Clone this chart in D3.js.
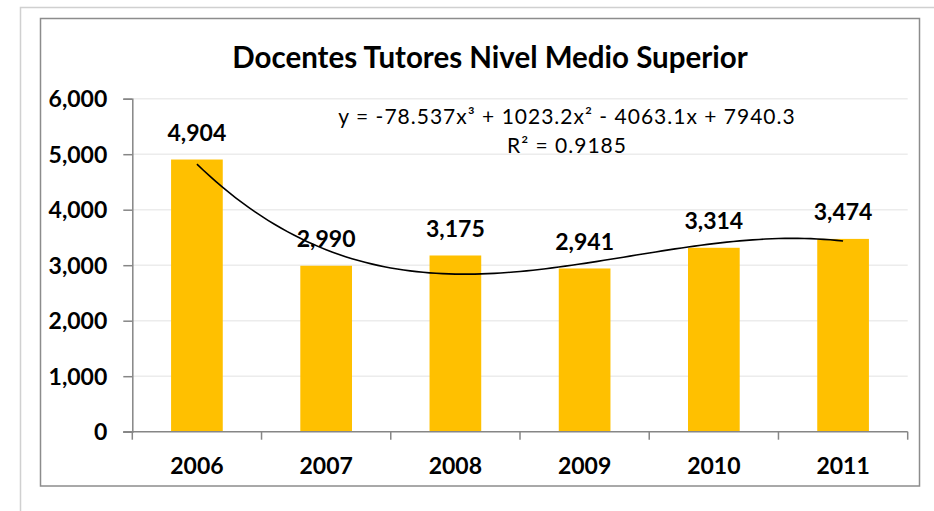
<!DOCTYPE html>
<html>
<head>
<meta charset="utf-8">
<script src="https://cdn.jsdelivr.net/npm/d3@7"></script>
<style>
  body { margin: 0; background: #fff; }
  text { font-family: Lato, "Open Sans", sans-serif; fill: #000; }
  .lbl { font-weight: bold; font-size: 23px; }
  .title { font-weight: bold; font-size: 29.5px; }
  .eq { font-size: 21px; letter-spacing: 1px; }
</style>
</head>
<body>
<div id="chart"></div>
<script>
// data
const years = ["2006", "2007", "2008", "2009", "2010", "2011"];
const docentes = [4904, 2990, 3175, 2941, 3314, 3474];
const yTicks = [0, 1000, 2000, 3000, 4000, 5000, 6000];
const eqLines = ["y = -78.537x\u00B3 + 1023.2x\u00B2 - 4063.1x + 7940.3", "R\u00B2 = 0.9185"];

const W = 934, H = 511;
const margin = {top: 98.7, right: 26.3, bottom: 79.3, left: 132.3},
    width = W - margin.left - margin.right,
    height = H - margin.top - margin.bottom;

const root = d3.select("#chart").append("svg")
    .attr("width", W)
    .attr("height", H);

// outer + inner frames
root.append("rect")
    .attr("x", 20.5).attr("y", 7.5).attr("width", 940).attr("height", 520)
    .attr("fill", "none").attr("stroke", "#d0d0d0").attr("stroke-width", 1.5);
root.append("rect")
    .attr("x", 40.5).attr("y", 18.5).attr("width", 879).attr("height", 467.5)
    .attr("fill", "#fff").attr("stroke", "#8c8c8c").attr("stroke-width", 1.5);

const svg = root.append("g")
    .attr("transform", `translate(${margin.left},${margin.top})`);

const x = d3.scaleBand()
  .range([0, width])
  .domain(years)
  .paddingInner(0.6)
  .paddingOuter(0.3);

const y = d3.scaleLinear()
  .domain([0, 6000])
  .range([height, 0]);

// gridlines
svg.selectAll("line.grid")
  .data(yTicks.slice(1))
  .join("line")
    .attr("class", "grid")
    .attr("x1", 0).attr("x2", width)
    .attr("y1", d => y(d)).attr("y2", d => y(d))
    .attr("stroke", "#ececec")
    .attr("stroke-width", 1.5);

// Bars
svg.selectAll("rect.bar")
  .data(years)
  .join("rect")
    .attr("class", "bar")
    .attr("x", d => x(d))
    .attr("y", (d, i) => y(docentes[i]))
    .attr("width", x.bandwidth())
    .attr("height", (d, i) => height - y(docentes[i]))
    .attr("fill", "#FFC000");

// Y axis
const yAxis = svg.append("g")
  .call(d3.axisLeft(y).tickValues(yTicks).tickSize(9).tickPadding(16).tickFormat(d3.format(",")));
yAxis.selectAll("text").attr("class", "lbl").attr("dy", "0.35em");
yAxis.selectAll("line, path").attr("stroke", "#868686").attr("stroke-width", 1.5);

// X axis, ticks between categories
const step = x.step();
const xAxis = svg.append("g").attr("transform", `translate(0,${height})`);
xAxis.append("line")
    .attr("x1", -9).attr("x2", width)
    .attr("stroke", "#868686").attr("stroke-width", 1.5);
xAxis.selectAll("line.tk")
  .data(d3.range(years.length + 1))
  .join("line")
    .attr("class", "tk")
    .attr("x1", i => i * step).attr("x2", i => i * step)
    .attr("y1", 0).attr("y2", 8)
    .attr("stroke", "#868686").attr("stroke-width", 1.5);
xAxis.selectAll("text")
  .data(years)
  .join("text")
    .attr("class", "lbl")
    .attr("x", d => x(d) + x.bandwidth() / 2)
    .attr("y", 34)
    .attr("dy", "0.35em")
    .attr("text-anchor", "middle")
    .text(d => d);

// cubic trendline fitted to the data (x = 1..n), least squares
function polyfit(xs, ys, deg) {
  const n = deg + 1;
  const A = d3.range(n).map(r => d3.range(n + 1).map(c => 0));
  xs.forEach((xv, k) => {
    for (let r = 0; r < n; r++) {
      for (let c = 0; c < n; c++) A[r][c] += Math.pow(xv, r + c);
      A[r][n] += ys[k] * Math.pow(xv, r);
    }
  });
  for (let i = 0; i < n; i++) {
    for (let j = i + 1; j < n; j++) {
      const f = A[j][i] / A[i][i];
      for (let c = i; c <= n; c++) A[j][c] -= f * A[i][c];
    }
  }
  const coef = new Array(n).fill(0);
  for (let i = n - 1; i >= 0; i--) {
    let s = A[i][n];
    for (let c = i + 1; c < n; c++) s -= A[i][c] * coef[c];
    coef[i] = s / A[i][i];
  }
  return coef;
}
const xs = years.map((d, i) => i + 1);
const coef = polyfit(xs, docentes, 3);
const fit = t => coef.reduce((s, c, p) => s + c * Math.pow(t, p), 0);
const center = t => x(years[0]) + x.bandwidth() / 2 + (t - 1) * step;
const trend = d3.range(1, years.length + 0.001, 0.05);
svg.append("path")
    .datum(trend)
    .attr("fill", "none")
    .attr("stroke", "#000")
    .attr("stroke-width", 1.6)
    .attr("d", d3.line().x(t => center(t)).y(t => y(fit(t))));

// Data labels
svg.selectAll("text.val")
  .data(years)
  .join("text")
    .attr("class", "lbl val")
    .attr("x", d => x(d) + x.bandwidth() / 2)
    .attr("y", (d, i) => y(docentes[i]) - 27)
    .attr("dy", "0.35em")
    .attr("text-anchor", "middle")
    .text((d, i) => d3.format(",")(docentes[i]));

// equation label
svg.selectAll("text.eq")
  .data(eqLines)
  .join("text")
    .attr("class", "eq")
    .attr("x", 567 - margin.left)
    .attr("y", (d, i) => 117 - margin.top + i * 29)
    .attr("dy", "0.35em")
    .attr("text-anchor", "middle")
    .text(d => d);

// Title
root.append("text")
    .attr("class", "title")
    .attr("x", 490)
    .attr("y", 58)
    .attr("dy", "0.35em")
    .attr("text-anchor", "middle")
    .text("Docentes Tutores Nivel Medio Superior");
</script>
</body>
</html>
